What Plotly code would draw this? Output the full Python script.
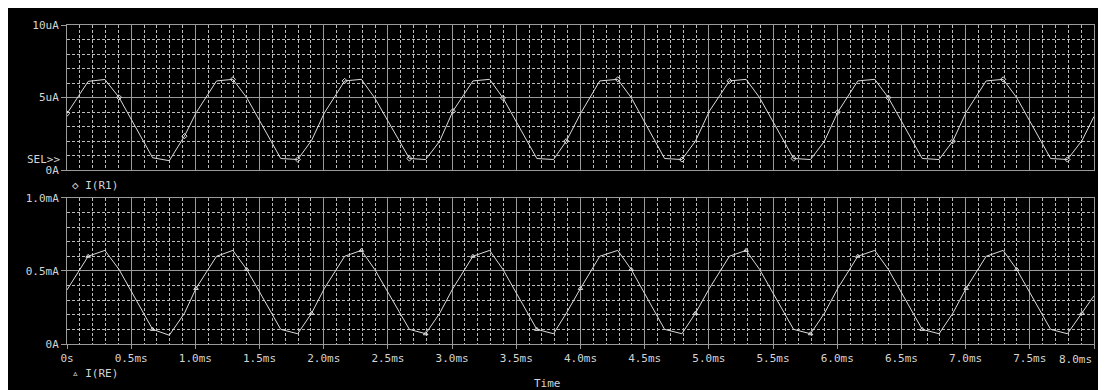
import plotly.graph_objects as go

# ---- data ----
time_ms = [0.00, 0.165, 0.295, 0.405, 0.667, 0.797, 0.915,
           1.005, 1.165, 1.292, 1.400, 1.665, 1.797, 1.905,
           2.005, 2.163, 2.293, 2.397, 2.667, 2.794, 2.903,
           3.006, 3.162, 3.292, 3.396, 3.660, 3.790, 3.889,
           4.000, 4.150, 4.290, 4.395, 4.655, 4.790, 4.895,
           5.004, 5.160, 5.290, 5.395, 5.660, 5.792, 5.900,
           6.004, 6.160, 6.292, 6.398, 6.662, 6.793, 6.900,
           7.004, 7.160, 7.292, 7.398, 7.662, 7.793, 7.907, 8.000]

i_r1_uA = [3.90, 6.12, 6.25, 5.02, 0.86, 0.66, 2.35,
           3.95, 6.15, 6.26, 5.00, 0.81, 0.74, 2.05,
           3.95, 6.15, 6.26, 4.98, 0.81, 0.74, 2.00,
           4.07, 6.15, 6.26, 4.98, 0.81, 0.74, 2.00,
           3.90, 6.15, 6.26, 5.00, 0.81, 0.74, 2.00,
           4.07, 6.15, 6.26, 5.00, 0.81, 0.74, 2.00,
           4.00, 6.15, 6.26, 5.00, 0.81, 0.74, 2.00,
           4.00, 6.15, 6.26, 5.00, 0.81, 0.74, 2.05, 3.70]

i_re_mA = [0.37, 0.60, 0.64, 0.51, 0.10, 0.06, 0.21,
           0.38, 0.60, 0.64, 0.51, 0.10, 0.07, 0.21,
           0.38, 0.60, 0.64, 0.51, 0.10, 0.07, 0.21,
           0.38, 0.60, 0.64, 0.51, 0.10, 0.07, 0.21,
           0.38, 0.60, 0.64, 0.51, 0.10, 0.07, 0.21,
           0.38, 0.60, 0.64, 0.51, 0.10, 0.07, 0.21,
           0.38, 0.60, 0.64, 0.51, 0.10, 0.07, 0.21,
           0.38, 0.60, 0.64, 0.51, 0.10, 0.07, 0.21, 0.33]

x_tickvals = [0, 0.5, 1.0, 1.5, 2.0, 2.5, 3.0, 3.5, 4.0, 4.5, 5.0, 5.5, 6.0, 6.5, 7.0, 7.5, 8.0]
x_ticktext = ["0s", "0.5ms", "1.0ms", "1.5ms", "2.0ms", "2.5ms", "3.0ms", "3.5ms", "4.0ms",
              "4.5ms", "5.0ms", "5.5ms", "6.0ms", "6.5ms", "7.0ms", "7.5ms", "8.0ms"]
top_tickvals = [0, 5, 10]
top_ticktext = ["0A", "5uA", "10uA"]
bot_tickvals = [0, 0.5, 1.0]
bot_ticktext = ["0A", "0.5mA", "1.0mA"]

# ---- styling ----
OFF = 8                      # page body margin
W, H = 1106 - OFF, 390 - OFF
L, R, T, B = 67 - OFF, 11, 19 - OFF, 46
PW, PH = W - L - R, H - T - B
FONT = "DejaVu Sans Mono"
TXT = "#d4d4d4"
MAJ = "#9a9a9a"
MIN = "#bcbcbc"
TRACE = "#dcdcdc"


def px_x(page_x):
    return (page_x - OFF - L) / PW


def px_y(page_y):
    return (H - B - (page_y - OFF)) / PH


fig = go.Figure()
fig.add_trace(go.Scatter(x=time_ms, y=i_r1_uA, mode="lines",
                         line=dict(color=TRACE, width=1), xaxis="x", yaxis="y",
                         showlegend=False, hoverinfo="skip"))
fig.add_trace(go.Scatter(x=time_ms[::3], y=i_r1_uA[::3], mode="markers",
                         marker=dict(symbol="diamond-open", size=4, color=TRACE, line=dict(width=1)),
                         xaxis="x", yaxis="y", showlegend=False, hoverinfo="skip"))
fig.add_trace(go.Scatter(x=time_ms, y=i_re_mA, mode="lines",
                         line=dict(color=TRACE, width=1), xaxis="x2", yaxis="y2",
                         showlegend=False, hoverinfo="skip"))
fig.add_trace(go.Scatter(x=time_ms[1::3], y=i_re_mA[1::3], mode="markers",
                         marker=dict(symbol="triangle-up-open", size=4, color=TRACE, line=dict(width=1)),
                         xaxis="x2", yaxis="y2", showlegend=False, hoverinfo="skip"))

top_dom = [px_y(167), 1.0]
bot_dom = [0.0, px_y(195)]

common_x = dict(range=[0, 8], showgrid=True, gridcolor=MAJ, gridwidth=1,
                tickvals=x_tickvals, zeroline=False,
                showline=True, mirror=True, linecolor=MAJ, linewidth=1,
                minor=dict(dtick=0.1, tick0=0, showgrid=True, gridcolor=MIN,
                           griddash="3px,2px", gridwidth=1))

fig.update_layout(
    width=W, height=H,
    margin=dict(l=L, r=R, t=T, b=B),
    paper_bgcolor="black", plot_bgcolor="black",
    font=dict(family=FONT, size=11, color=TXT),
    xaxis=dict(**common_x, anchor="y", showticklabels=False, ticks=""),
    xaxis2=dict(**common_x, anchor="y2", ticks="outside", ticklen=4, tickcolor=MAJ,
                ticktext=x_ticktext[:-1] + [""], tickfont=dict(family=FONT, size=11, color=TXT)),
    yaxis=dict(domain=top_dom, range=[0, 10], anchor="x", tickvals=top_tickvals,
               ticktext=top_ticktext, showgrid=True, gridcolor=MAJ, zeroline=False,
               showline=True, mirror=True, linecolor=MAJ, ticks="outside", ticklen=5,
               tickcolor=MAJ, tickfont=dict(family=FONT, size=11, color=TXT),
               minor=dict(dtick=1, tick0=0, showgrid=True, gridcolor=MIN,
                          griddash="3px,2px", gridwidth=1)),
    yaxis2=dict(domain=bot_dom, range=[0, 1], anchor="x2", tickvals=bot_tickvals,
                ticktext=bot_ticktext, showgrid=True, gridcolor=MAJ, zeroline=False,
                showline=True, mirror=True, linecolor=MAJ, ticks="outside", ticklen=5,
                tickcolor=MAJ, tickfont=dict(family=FONT, size=11, color=TXT),
                minor=dict(dtick=0.1, tick0=0, showgrid=True, gridcolor=MIN,
                           griddash="3px,2px", gridwidth=1)),
)

annos = [
    dict(text=x_ticktext[-1], x=x_tickvals[-1], xref="x2", y=px_y(360), yref="paper",
         xanchor="right", yanchor="middle", showarrow=False),
    dict(text="SEL>>", x=px_x(62), y=px_y(156), xref="paper", yref="paper",
         xanchor="right", yanchor="middle", showarrow=False),
    dict(text="◇ I(R1)", x=px_x(70), y=px_y(183), xref="paper", yref="paper",
         xanchor="left", yanchor="middle", showarrow=False),
    dict(text="▵ I(RE)", x=px_x(70), y=px_y(374), xref="paper", yref="paper",
         xanchor="left", yanchor="middle", showarrow=False),
    dict(text="Time", x=px_x(548), y=px_y(384), xref="paper", yref="paper",
         xanchor="center", yanchor="middle", showarrow=False),
]
for a in annos:
    a["font"] = dict(family=FONT, size=11, color=TXT)
fig.update_layout(annotations=annos)

fig.write_html("out.html")
